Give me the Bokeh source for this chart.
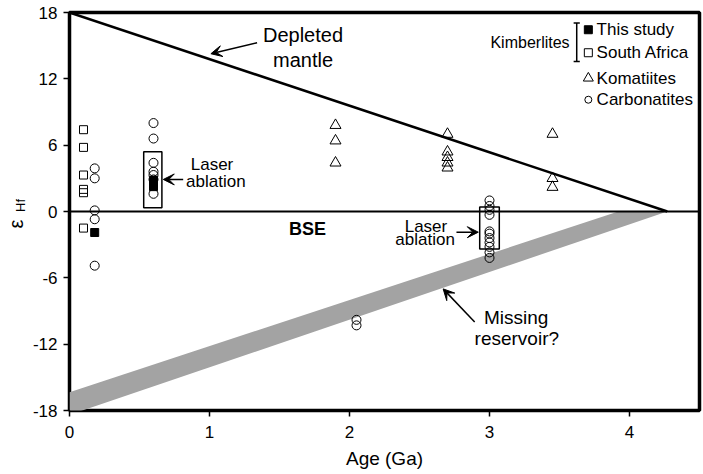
from bokeh.plotting import figure
from bokeh.models import Label, Arrow, VeeHead, FixedTicker, Div
from bokeh.layouts import row
from bokeh.embed import file_html
from bokeh.resources import INLINE

# ---- data ----
x_ticks = [0, 1, 2, 3, 4]
y_ticks = [-18, -12, -6, 0, 6, 12, 18]

# Kimberlites, this study (filled squares)
this_study_age = [0.18, 0.6, 0.6, 0.6, 0.6]
this_study_ehf = [-1.9, 2.8, 2.6, 2.4, 2.25]

# Kimberlites, South Africa (open squares)
south_africa_age = [0.1, 0.1, 0.1, 0.1, 0.1, 0.1]
south_africa_ehf = [7.4, 5.8, 3.3, 2.0, 1.7, -1.5]

# Komatiites (triangles)
komatiite_age = [1.9, 1.9, 1.9, 2.7, 2.7, 2.7, 2.7, 2.7, 3.45, 3.45, 3.45]
komatiite_ehf = [7.8, 6.4, 4.4, 7.0, 5.4, 4.9, 4.4, 3.95, 7.0, 3.0, 2.2]

# Carbonatites (circles)
carbonatite_age = [0.18, 0.18, 0.18, 0.18, 0.18,
                   0.6, 0.6, 0.6, 0.6, 0.6, 0.6, 0.6,
                   2.05, 2.05,
                   3.0, 3.0, 3.0, 3.0, 3.0, 3.0, 3.0, 3.0, 3.0, 3.0, 3.0]
carbonatite_ehf = [3.9, 3.0, 0.1, -0.7, -4.9,
                   8.0, 6.6, 4.4, 3.6, 3.3, 2.9, 1.6,
                   -9.8, -10.3,
                   1.0, 0.5, 0.15, -0.3, -1.8, -2.0, -2.4, -2.8, -3.2, -3.7, -4.2]

# Reference curves
depleted_mantle_age = [0.0, 4.27]
depleted_mantle_ehf = [18.0, 0.0]
bse_age = [0.0, 4.5]
bse_ehf = [0.0, 0.0]
missing_reservoir_age = [0.0, 4.27, 3.92, 0.0]
missing_reservoir_ehf = [-18.4, 0.0, 0.0, -16.35]

# Laser ablation boxes
box_left = [0.53, 2.93]
box_right = [0.66, 3.07]
box_top = [5.4, 0.4]
box_bottom = [0.35, -3.4]

FONT = "Liberation Sans"

p = figure(width=673, height=474, x_range=(0, 4.5), y_range=(-18, 18),
           output_backend="svg", toolbar_location=None,
           min_border_left=38, min_border_right=3, min_border_top=12,
           min_border_bottom=64)
p.background_fill_color = "white"
p.border_fill_color = "white"
p.outline_line_color = "black"
p.outline_line_width = 3.5
p.xgrid.grid_line_color = None
p.ygrid.grid_line_color = None

for ax, ticks, standoff in ((p.xaxis, x_ticks, 9), (p.yaxis, y_ticks, 6)):
    ax.ticker = FixedTicker(ticks=ticks)
    ax.major_label_overrides = {t: str(t) for t in ticks}
    ax.axis_line_color = None
    ax.major_tick_out = 6
    ax.major_tick_in = 0
    ax.minor_tick_out = 0
    ax.minor_tick_in = 0
    ax.major_tick_line_width = 1.5
    ax.major_tick_line_color = "black"
    ax.major_label_text_font = FONT
    ax.major_label_text_font_size = "17px"
    ax.major_label_text_color = "black"
    ax.major_label_standoff = standoff

p.xaxis.axis_label = "Age (Ga)"
p.xaxis.axis_label_text_font = FONT
p.xaxis.axis_label_text_font_size = "19px"
p.xaxis.axis_label_text_font_style = "normal"
p.xaxis.axis_label_text_color = "black"
p.xaxis.axis_label_standoff = 7

# band
p.patch(missing_reservoir_age, missing_reservoir_ehf, fill_color="#a3a3a3", line_color=None)
# lines
p.line(depleted_mantle_age, depleted_mantle_ehf, line_color="black", line_width=2.5)
p.line(bse_age, bse_ehf, line_color="black", line_width=2)
# boxes
p.quad(left=box_left, right=box_right, top=box_top, bottom=box_bottom,
       fill_color=None, line_color="black", line_width=1.5)

# markers
p.scatter(carbonatite_age, carbonatite_ehf, marker="circle", size=9,
          fill_color=None, line_color="black", line_width=1)
p.scatter(south_africa_age, south_africa_ehf, marker="square", size=8,
          fill_color=None, line_color="black", line_width=1)
p.scatter(komatiite_age, komatiite_ehf, marker="triangle", size=11,
          fill_color=None, line_color="black", line_width=1)
p.scatter(this_study_age, this_study_ehf, marker="square", size=8,
          fill_color="black", line_color="black", line_width=1)

# legend (custom)
leg_x = 3.706
leg_tx = 3.765
leg_y = [16.44, 14.36, 12.06, 10.11]
leg_names = ["This study", "South Africa", "Komatiites", "Carbonatites"]
p.scatter([leg_x], [leg_y[0]], marker="square", size=8, fill_color="black", line_color="black")
p.scatter([leg_x], [leg_y[1]], marker="square", size=8, fill_color=None, line_color="black")
p.scatter([leg_x], [leg_y[2]], marker="triangle", size=10, fill_color=None, line_color="black")
p.scatter([leg_x], [leg_y[3]], marker="circle", size=7, fill_color=None, line_color="black")
for yy, name in zip(leg_y, leg_names):
    p.add_layout(Label(x=leg_tx, y=yy, text=name, text_font=FONT, text_font_size="17px",
                       text_baseline="middle", text_align="left", text_color="black"))
p.add_layout(Label(x=3.572, y=15.3, text="Kimberlites", text_font=FONT, text_font_size="16px",
                   text_baseline="middle", text_align="right", text_color="black"))
br_x = 3.623
p.segment(x0=[br_x, br_x - 0.022, br_x - 0.022], y0=[17.04, 17.04, 13.57],
          x1=[br_x, br_x + 0.022, br_x + 0.022], y1=[13.57, 17.04, 13.57],
          line_color="black", line_width=1.5)

# annotations
def lab(x, y, t, size, align="center", style="normal"):
    p.add_layout(Label(x=x, y=y, text=t, text_font=FONT, text_font_size=size,
                       text_baseline="middle", text_align=align, text_color="black",
                       text_font_style=style))

lab(1.668, 15.93, "Depleted", "20px")
lab(1.668, 13.73, "mantle", "20px")
lab(3.19, -9.56, "Missing", "19px")
lab(3.195, -11.5, "reservoir?", "19px")
lab(1.70, -1.54, "BSE", "18px", style="bold")
lab(1.018, 4.25, "Laser", "17px")
lab(0.833, 2.7, "ablation", "17px", align="left")
lab(2.546, -1.33, "Laser", "17px")
lab(2.54, -2.56, "ablation", "17px")

def arrow(x0, y0, x1, y1):
    p.add_layout(Arrow(end=VeeHead(size=11, fill_color="black", line_color="black"),
                       x_start=x0, y_start=y0, x_end=x1, y_end=y1,
                       line_color="black", line_width=1.5))

arrow(1.34, 15.27, 1.01, 14.27)
arrow(2.894, -10.0, 2.669, -7.0)
arrow(0.812, 2.9, 0.67, 2.9)
arrow(2.764, -1.87, 2.92, -1.87)

# y-axis title: epsilon with subscript Hf (rotated)
ylabel_html = (
    '<div style="position:relative;width:29px;height:474px;'
    'font-family:\'Liberation Sans\',Arial,sans-serif;color:#000;">'
    '<div style="position:absolute;left:6.25px;top:214px;width:20px;height:20px;'
    'line-height:20px;font-size:20px;text-align:center;transform:rotate(-90deg);">ε</div>'
    '<div style="position:absolute;left:9.5px;top:199px;width:20px;height:13px;'
    'line-height:13px;font-size:13px;text-align:center;transform:rotate(-90deg);">Hf</div>'
    '</div>'
)
ylab = Div(text=ylabel_html, width=29, height=474, margin=(0, 0, 0, 0),
           styles={"overflow": "visible"})

layout = row(ylab, p)
open("out.html", "w").write(file_html(layout, INLINE))
